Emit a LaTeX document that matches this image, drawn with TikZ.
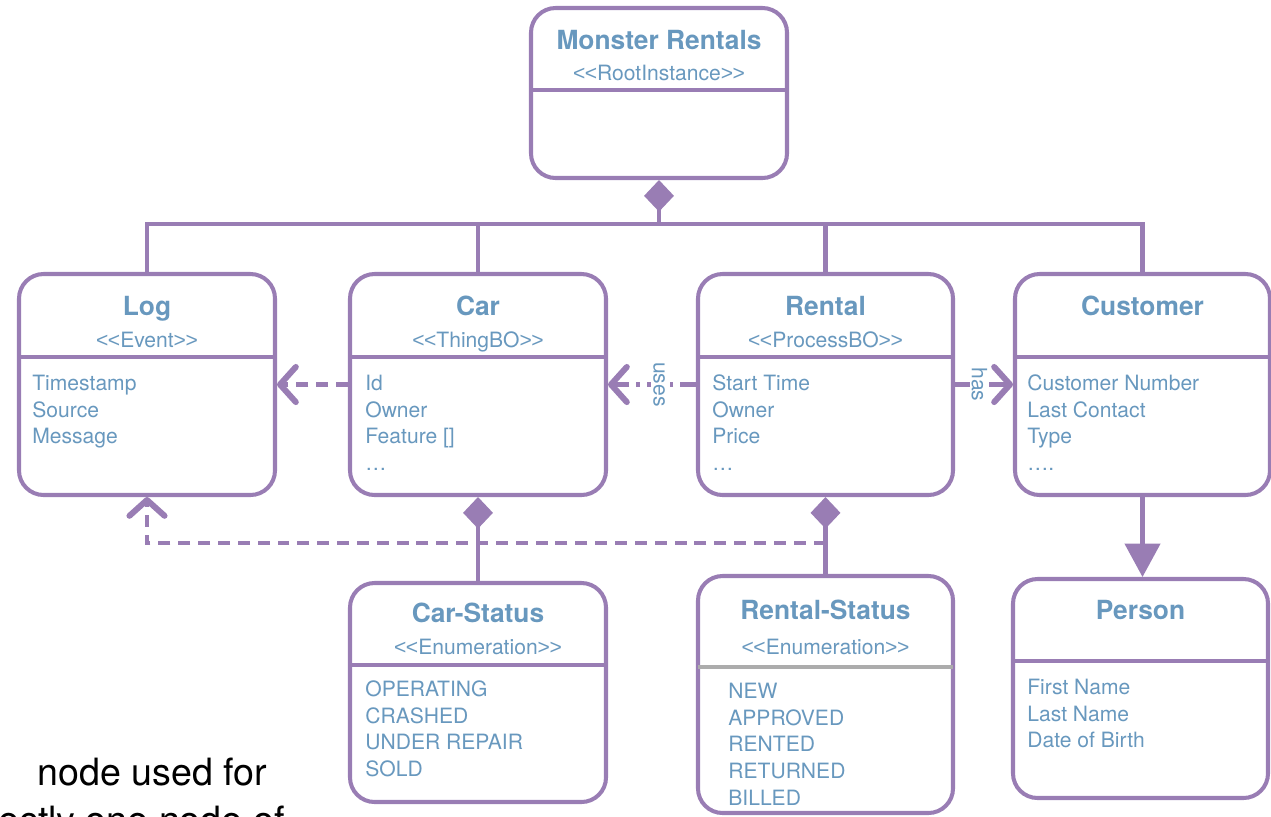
\documentclass[tikz,border=0pt]{standalone}
\usepackage{fontspec}
\newfontfamily\umlfont{TeX Gyre Heros}
\newfontfamily\ltfont{Liberation Sans}
\usepackage{tikz}
\usetikzlibrary{
        arrows.meta,
        fit,
        positioning
    }
\definecolor{umlpurple}{RGB}{153,125,180}
\definecolor{umlblue}{RGB}{104,152,190}
\definecolor{sepgrey}{RGB}{172,172,172}
\newcommand{\stereo}[1]{{\ltfont<\kern-0.3pt<}#1{\ltfont>\kern-0.3pt>}}
\tikzset{
    box/.style={draw=umlpurple,line width=2.3pt,rounded corners=14pt,inner sep=0pt},
    boxsep/.style={draw=umlpurple,line width=2.3pt},
    boxtitle/.style={anchor=base,text=umlblue,font=\umlfont\fontsize{15}{18}\selectfont\bfseries},
    boxstereo/.style={anchor=base,text=umlblue,font=\umlfont\fontsize{12}{14}\selectfont},
    boxattr/.style={anchor=base west,inner sep=0pt,text=umlblue,font=\umlfont\fontsize{12}{14}\selectfont},
    conn/.style={draw=umlpurple,line width=2.3pt},
    comp/.style={conn,{Diamond[length=18pt,width=17pt]}-},
    depend/.style={conn,dash pattern=on 6.8pt off 4.5pt,-{Straight Barb[length=9pt,width=20pt,line width=3.4pt,round]}},
    uses/.style={conn,dash pattern=on 9pt off 4pt on 2pt off 4pt,-{Straight Barb[length=9pt,width=20pt,line width=3.4pt,round]}},
    assoc/.style={conn,-{Straight Barb[length=9pt,width=20pt,line width=3.4pt,round]}},
    gen/.style={conn,-{Triangle[length=19pt,width=20pt]}},
    lbl/.style={rotate=-90,fill=white,inner sep=1pt,text=umlblue,font=\umlfont\fontsize{12}{14}\selectfont}
}

\begin{document}
\begin{tikzpicture}[x=0.02cm,y=-0.02cm]
    \useasboundingbox (0,0) rectangle (1271,816);
    \clip (0,0) rectangle (1271,816);

    % root
    \node[box,fit={(531,8) (787,178)}] (monster) {};
    \node[boxtitle] (monster-t) at (659,49.5) {Monster Rentals};
    \node[boxstereo] (monster-s) at (659,80.6) {\stereo{RootInstance}};
    \draw[boxsep] (531,90) -- (787,90);

    % log
    \node[box,fit={(19,274) (275,495)}] (log) {};
    \node[boxtitle] (log-t) at (147,315.5) {Log};
    \node[boxstereo] (log-s) at (147,347.6) {\stereo{Event}};
    \draw[boxsep] (19,357) -- (275,357);
    \foreach \a [count=\i] in {Timestamp,Source,Message}
        \node[boxattr] (log-a\i) at (32,{390.6+26.6*(\i-1)}) {\a};

    % car
    \node[box,fit={(350,274) (606,495)}] (car) {};
    \node[boxtitle] (car-t) at (478,315.5) {Car};
    \node[boxstereo] (car-s) at (478,347.6) {\stereo{ThingBO}};
    \draw[boxsep] (350,357) -- (606,357);
    \foreach \a [count=\i] in {Id,Owner,Feature [],…}
        \node[boxattr] (car-a\i) at (365,{390.6+26.6*(\i-1)}) {\a};

    % rental
    \node[box,fit={(698,274) (953,495)}] (rental) {};
    \node[boxtitle] (rental-t) at (825.5,315.5) {Rental};
    \node[boxstereo] (rental-s) at (825.5,347.6) {\stereo{ProcessBO}};
    \draw[boxsep] (698,357) -- (953,357);
    \foreach \a [count=\i] in {Start Time,Owner,Price,…}
        \node[boxattr] (rental-a\i) at (712,{390.6+26.6*(\i-1)}) {\a};

    % customer
    \node[box,fit={(1015,274) (1270,495)}] (customer) {};
    \node[boxtitle] (customer-t) at (1142.5,315.5) {Customer};
    \draw[boxsep] (1015,357) -- (1270,357);
    \foreach \a [count=\i] in {Customer Number,Last Contact,Type,….}
        \node[boxattr] (customer-a\i) at (1027,{390.6+26.6*(\i-1)}) {\a};

    % car status
    \node[box,fit={(350,583) (606,802)}] (carstatus) {};
    \node[boxtitle] (carstatus-t) at (478,622.5) {Car-Status};
    \node[boxstereo] (carstatus-s) at (478,654.6) {\stereo{Enumeration}};
    \draw[boxsep] (350,665) -- (606,665);
    \foreach \a [count=\i] in {OPERATING,CRASHED,UNDER REPAIR,SOLD}
        \node[boxattr] (carstatus-a\i) at (365,{696.6+26.6*(\i-1)}) {\a};

    % rental status
    \node[box,fit={(698,576) (953,813)}] (rentalstatus) {};
    \node[boxtitle] (rentalstatus-t) at (825.5,619.5) {Rental-Status};
    \node[boxstereo] (rentalstatus-s) at (825.5,654.6) {\stereo{Enumeration}};
    \draw[boxsep,draw=sepgrey] (698,667) -- (953,667);
    \foreach \a [count=\i] in {NEW,APPROVED,RENTED,RETURNED,BILLED}
        \node[boxattr] (rentalstatus-a\i) at (728,{698.6+26.6*(\i-1)}) {\a};

    % person
    \node[box,fit={(1013,579) (1268,798)}] (person) {};
    \node[boxtitle] (person-t) at (1140.5,619.5) {Person};
    \draw[boxsep] (1013,661) -- (1268,661);
    \foreach \a [count=\i] in {First Name,Last Name,Date of Birth}
        \node[boxattr] (person-a\i) at (1027,{694.6+26.6*(\i-1)}) {\a};

    % connectors
    \coordinate (bus) at (659,224);
    \coordinate (logbend) at (825.5,543);
    \draw[comp] (monster.south) -- (bus);
    \draw[conn] (log.north) |- (bus) -| (customer.north);
    \draw[conn] (car.north) -- (car.north |- bus);
    \draw[conn] (rental.north) -- (rental.north |- bus);
    \draw[depend] (car.west) -- (log.east);
    \draw[uses] (rental.west) -- node[lbl,pos=0.42] (uses-l) {uses} (car.east);
    \draw[assoc] (rental.east) -- node[lbl,pos=0.42] (has-l) {has} (customer.west);
    \draw[gen] (customer.south) -- (customer.south |- person.north);
    \draw[comp] (car.south) -- (carstatus.north);
    \draw[comp] (rental.south) -- (rentalstatus.north);
    \draw[depend] (logbend) -| (log.south);

    % cut-off slide text
    \node[anchor=base west,inner sep=0pt,font=\umlfont\fontsize{21.4}{25}\selectfont] (note1) at (37,785) {node used for};
    \node[anchor=base west,inner sep=0pt,font=\umlfont\fontsize{21.4}{25}\selectfont] (note2) at (-2,833) {ectly one node of};
\end{tikzpicture}
\end{document}
